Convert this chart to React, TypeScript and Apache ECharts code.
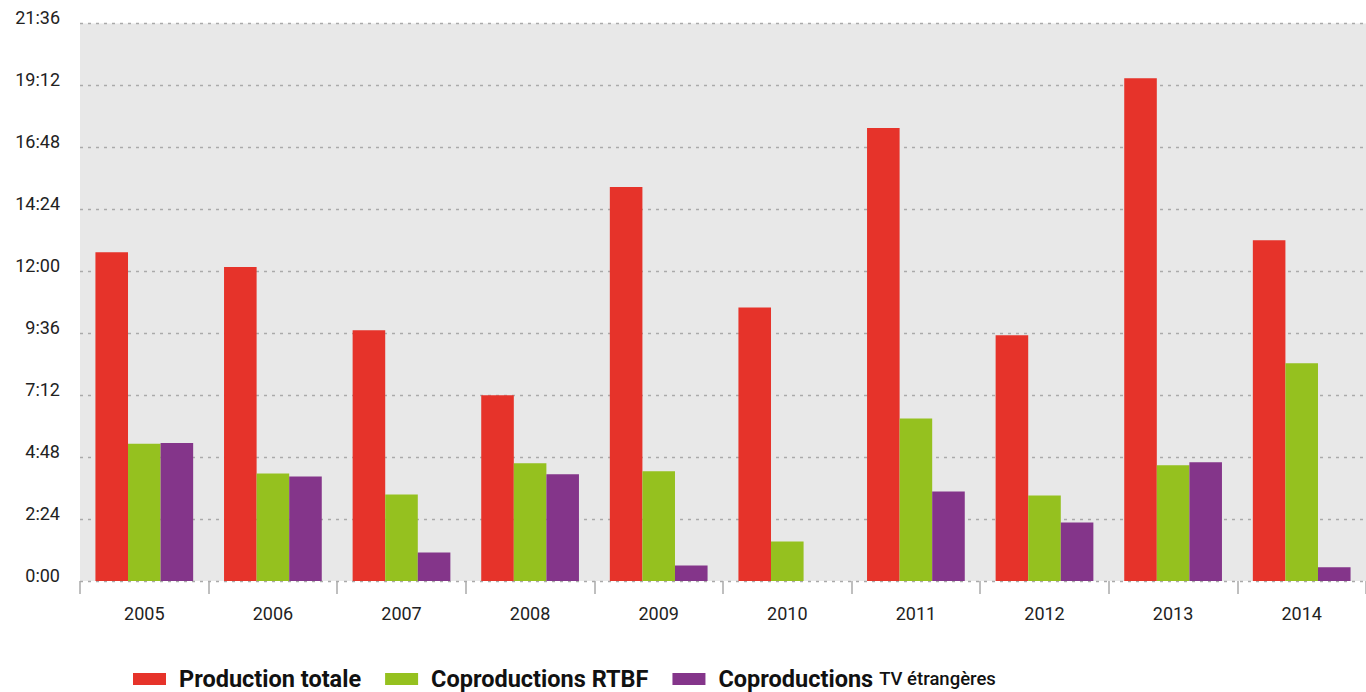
import React, { useEffect, useRef } from "react";
import * as echarts from "echarts";

const years = ["2005", "2006", "2007", "2008", "2009", "2010", "2011", "2012", "2013", "2014"];
// values in minutes
const productionTotale = [764, 730, 583, 432, 916, 636, 1053, 571, 1169, 792];
const coprodRTBF = [319, 250, 201, 274, 255, 92, 378, 199, 269, 506];
const coprodTV = [321, 243, 66, 248, 36, 0, 208, 136, 276, 32];

const seriesNames = ["Production totale", "Coproductions RTBF", "Coproductions TV étrangères"];
const colors = ["#e6332a", "#95c11f", "#84358a"];

const fmt = (v: number) => {
  const h = Math.floor(v / 60);
  const m = Math.round(v - h * 60);
  return h + ":" + (m < 10 ? "0" + m : m);
};

export default function App() {
  const ref = useRef<HTMLDivElement>(null);
  useEffect(() => {
    if (!ref.current) return;
    const chart = echarts.init(ref.current, null, { renderer: "svg" });
    const data = [productionTotale, coprodRTBF, coprodTV];
    chart.setOption({
      animation: false,
      backgroundColor: "#ffffff",
      textStyle: { fontFamily: "Roboto" },
      grid: {
        left: 80,
        right: 0,
        top: 23.5,
        bottom: 111,
        show: true,
        backgroundColor: "#e8e8e8",
        borderWidth: 0,
      },
      legend: {
        left: 133,
        top: 667,
        padding: 0,
        itemWidth: 33,
        itemHeight: 12,
        itemGap: 24,
        icon: "rect",
        data: seriesNames,
        formatter: (name: string) => {
          if (name === "Coproductions TV étrangères") return "{b|Coproductions}{n|TV étrangères}";
          return "{b|" + name + "}";
        },
        textStyle: {
          padding: [0, 0, 0, 8],
          rich: {
            b: { fontFamily: "Roboto", fontWeight: "bold", fontSize: 23.5, lineHeight: 28, color: "#111" },
            n: { fontFamily: "Roboto", fontWeight: 500, fontSize: 18.5, lineHeight: 28, color: "#111", padding: [0, 0, 0, 6] },
          },
        },
      },
      xAxis: {
        type: "category",
        data: years,
        boundaryGap: true,
        axisLine: { show: false },
        axisTick: { show: true, length: 13, lineStyle: { color: "#aaaaaa", width: 1.5 } },
        axisLabel: { color: "#222", fontSize: 18, margin: 23, fontFamily: "Roboto" },
      },
      yAxis: {
        type: "value",
        min: 0,
        max: 1296,
        interval: 144,
        axisLine: { show: false },
        axisTick: { show: false },
        axisLabel: {
          color: "#222",
          fontSize: 18,
          margin: 20,
          fontFamily: "Roboto",
          verticalAlign: "bottom",
          lineHeight: 12,
          formatter: (v: number) => fmt(v),
        },
        splitLine: { show: true, lineStyle: { color: "#aaaaaa", type: [3, 5], width: 1.3 } },
      },
      series: seriesNames.map((n, i) => ({
        name: n,
        type: "bar",
        data: data[i],
        itemStyle: { color: colors[i] },
        barGap: "0%",
        barCategoryGap: "24%",
        z: 3,
      })),
    });
    return () => chart.dispose();
  }, []);
  return (
    <div
      ref={ref}
      style={{ position: "fixed", left: 0, top: 0, width: 1366, height: 692 }}
    />
  );
}
